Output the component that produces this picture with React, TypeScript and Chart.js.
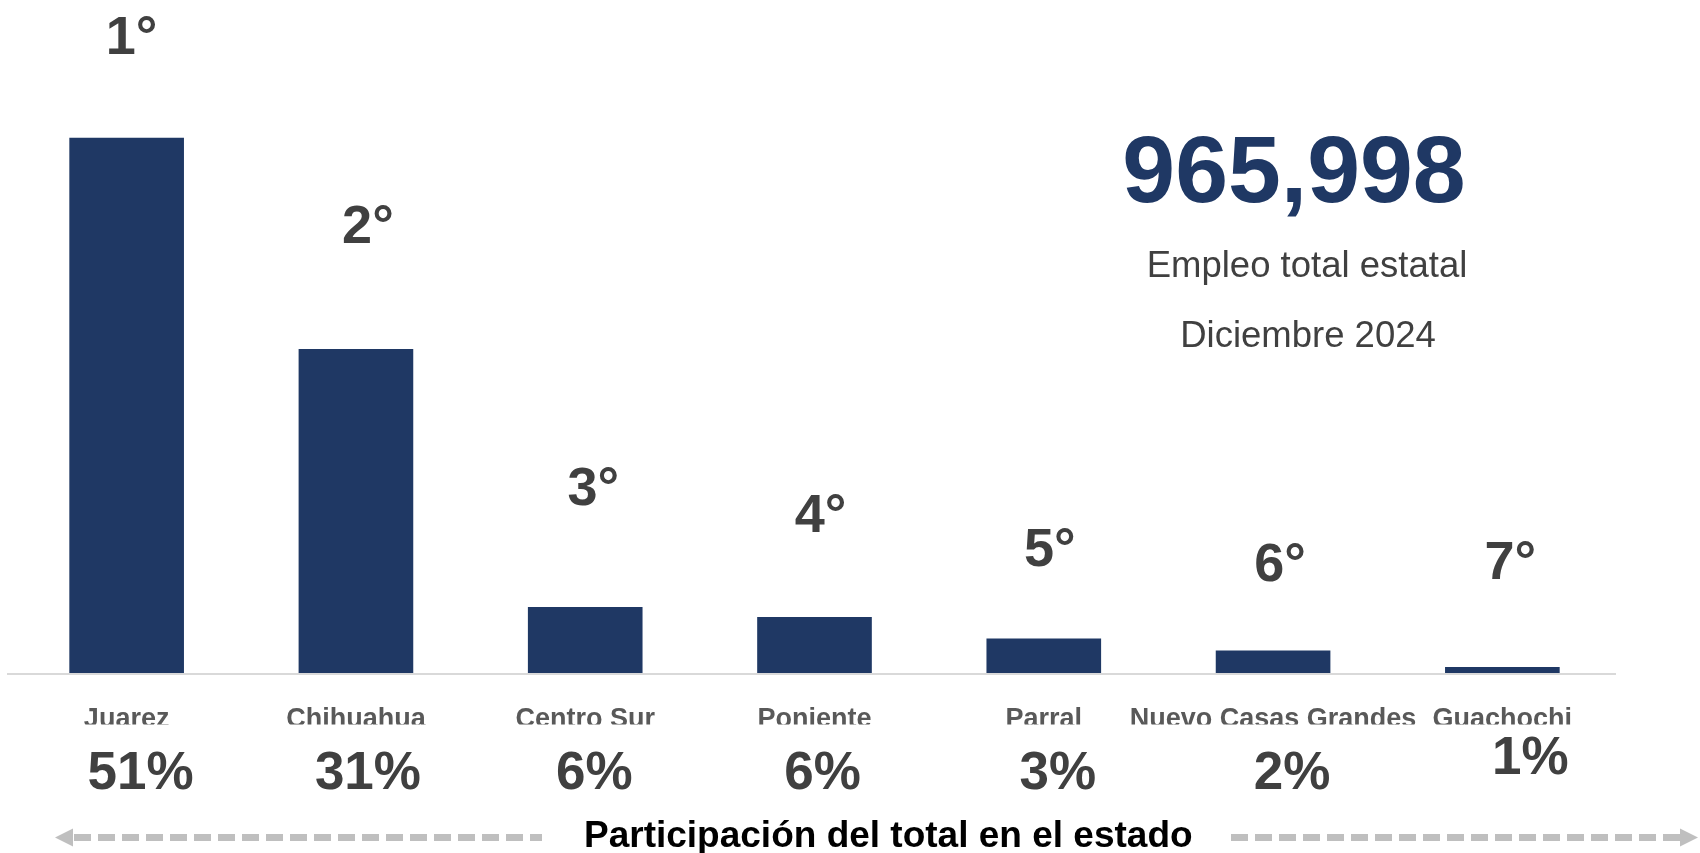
import React, { useEffect, useRef } from "react";
import { Chart, registerables } from "chart.js";

Chart.register(...registerables);

// ---- data ----
const categories = [
  "Juarez",
  "Chihuahua",
  "Centro Sur",
  "Poniente",
  "Parral",
  "Nuevo Casas Grandes",
  "Guachochi",
];
const employment = [492000, 297800, 60700, 51500, 31600, 20700, 5500];
const rankLabels = ["1°", "2°", "3°", "4°", "5°", "6°", "7°"];
const shareLabels = ["51%", "31%", "6%", "6%", "3%", "2%", "1%"];
const totalEmployment = "965,998";
const totalCaption = "Empleo total estatal";
const periodCaption = "Diciembre 2024";
const footerCaption = "Participación del total en el estado";

// ---- styling (label offsets relative to bars, px) ----
const rankLift = [84, 106, 102, 85, 73, 69, 88];
const rankShift = [5, 12, 8, 6, 6, 7, 8];
const shareShift = [14, 12, 9, 8, 14, 19, 28];
const shareRaise = [0, 0, 0, 0, 0, 0, 15];

const NAVY = "#1F3864";
const FONT = '"Liberation Sans", Arial, sans-serif';

const overlayPlugin = {
  id: "overlay",
  afterDraw(chart: any) {
    const ctx = chart.ctx as CanvasRenderingContext2D;
    const meta = chart.getDatasetMeta(0);
    const area = chart.chartArea;
    ctx.save();

    // baseline
    ctx.strokeStyle = "#D9D9D9";
    ctx.lineWidth = 2;
    ctx.beginPath();
    ctx.moveTo(7, area.bottom + 1);
    ctx.lineTo(1616, area.bottom + 1);
    ctx.stroke();

    // rank labels
    ctx.fillStyle = "#404040";
    ctx.textAlign = "center";
    ctx.textBaseline = "alphabetic";
    ctx.font = `bold 54px ${FONT}`;
    meta.data.forEach((bar: any, i: number) => {
      ctx.fillText(rankLabels[i], bar.x + rankShift[i], bar.y - rankLift[i]);
    });

    // category labels (clipped at bottom like the source)
    ctx.save();
    ctx.beginPath();
    ctx.rect(0, area.bottom + 10, chart.width, 41.5);
    ctx.clip();
    ctx.fillStyle = "#595959";
    ctx.font = `bold 27px ${FONT}`;
    meta.data.forEach((bar: any, i: number) => {
      ctx.fillText(categories[i], bar.x, area.bottom + 54);
    });
    ctx.restore();

    // share labels
    ctx.fillStyle = "#404040";
    ctx.font = `bold 53px ${FONT}`;
    meta.data.forEach((bar: any, i: number) => {
      ctx.fillText(shareLabels[i], bar.x + shareShift[i], area.bottom + 116 - shareRaise[i]);
    });

    // total block
    ctx.fillStyle = NAVY;
    ctx.font = `bold 95px ${FONT}`;
    ctx.fillText(totalEmployment, 1294, 202);
    ctx.fillStyle = "#404040";
    ctx.font = `36.5px ${FONT}`;
    ctx.fillText(totalCaption, 1307, 277);
    ctx.fillText(periodCaption, 1308, 347);

    // footer caption
    ctx.fillStyle = "#000000";
    ctx.textAlign = "left";
    ctx.font = `bold 37px ${FONT}`;
    ctx.fillText(footerCaption, 584, 847);

    // arrows
    const ay = 837.5;
    ctx.strokeStyle = "#BFBFBF";
    ctx.fillStyle = "#BFBFBF";
    ctx.lineWidth = 7;
    ctx.setLineDash([17, 7]);
    ctx.beginPath();
    ctx.moveTo(74, ay);
    ctx.lineTo(542, ay);
    ctx.stroke();
    ctx.beginPath();
    ctx.moveTo(1231, ay);
    ctx.lineTo(1680, ay);
    ctx.stroke();
    ctx.setLineDash([]);
    ctx.beginPath();
    ctx.moveTo(55, ay);
    ctx.lineTo(73, ay - 9);
    ctx.lineTo(73, ay + 9);
    ctx.closePath();
    ctx.fill();
    ctx.beginPath();
    ctx.moveTo(1698, ay);
    ctx.lineTo(1680, ay - 9);
    ctx.lineTo(1680, ay + 9);
    ctx.closePath();
    ctx.fill();

    ctx.restore();
  },
};

export default function App() {
  const canvasRef = useRef<HTMLCanvasElement | null>(null);

  useEffect(() => {
    if (!canvasRef.current) return;
    const chart = new Chart(canvasRef.current, {
      type: "bar",
      data: {
        labels: categories,
        datasets: [
          {
            data: employment,
            backgroundColor: NAVY,
            barPercentage: 0.5,
            categoryPercentage: 1,
          },
        ],
      },
      options: {
        responsive: false,
        animation: false,
        layout: { padding: { left: 12, right: 83, top: 129, bottom: 180 } },
        plugins: { legend: { display: false }, tooltip: { enabled: false } },
        scales: {
          x: { display: false },
          y: { display: false, min: 0, max: 500000 },
        },
      },
      plugins: [overlayPlugin],
    });
    return () => chart.destroy();
  }, []);

  return (
    <div style={{ position: "absolute", left: 0, top: 0, width: 1700, height: 853, background: "#fff" }}>
      <canvas ref={canvasRef} width={1700} height={853} />
    </div>
  );
}
